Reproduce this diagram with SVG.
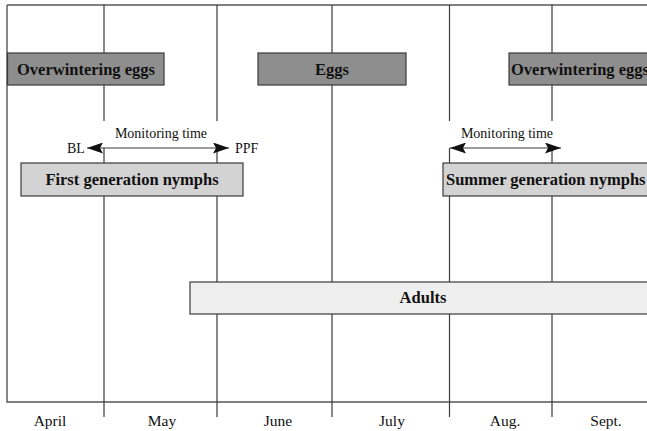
<svg xmlns="http://www.w3.org/2000/svg" width="647" height="431" viewBox="0 0 647 431">
<style>
.ln{stroke:#3a3a3a;stroke-width:1.2;fill:none}
.frame{stroke:#555;stroke-width:1.4;fill:none}
.box{stroke:#3a3a3a;stroke-width:1.2}
.dark{fill:#8e8e8e}
.mid{fill:#d3d3d3}
.light{fill:#efefef}
.bl{font-family:"Liberation Serif","Times New Roman",serif;font-weight:bold;font-size:16.5px;fill:#111;text-anchor:middle}
.st{text-anchor:start}
.tx{font-family:"Liberation Serif","Times New Roman",serif;font-size:14px;fill:#111}
.mo{font-family:"Liberation Serif","Times New Roman",serif;font-size:15.5px;fill:#111;text-anchor:middle}
</style>
<defs>
<marker id="ah" viewBox="0 0 16 11" refX="16" refY="5.5" markerWidth="16" markerHeight="11" markerUnits="userSpaceOnUse" orient="auto-start-reverse">
<path d="M0,0 L16,5.5 L0,11 L3,5.5 Z" fill="#111"/>
</marker>
</defs>
<rect width="647" height="431" fill="#fff"/>
<g id="grid">
<path class="frame" d="M7,5 H647 M7,5 V402 H647"/>
<path class="ln" d="M104,5 V121 M104,148 V417 M217,5 V121 M217,148 V417 M332,5 V417 M449.5,5 V121 M449.5,148 V417 M552,5 V121 M552,148 V417"/>
</g>
<g id="connectors">
<line class="ln" x1="87" y1="148" x2="229" y2="148" marker-start="url(#ah)" marker-end="url(#ah)" stroke="#111"/>
<line class="ln" x1="450" y1="148" x2="561" y2="148" marker-start="url(#ah)" marker-end="url(#ah)" stroke="#111"/>
<text class="tx" x="161" y="138" text-anchor="middle">Monitoring time</text>
<text class="tx" x="507" y="138" text-anchor="middle">Monitoring time</text>
<text class="tx" x="67" y="153">BL</text>
<text class="tx" x="235" y="153">PPF</text>
</g>
<g id="overwintering-eggs-1">
<rect class="box dark" x="7.5" y="53" width="156.5" height="32"/>
<text class="bl" x="86" y="74.5">Overwintering eggs</text>
</g>
<g id="eggs">
<rect class="box dark" x="258" y="53" width="148" height="32"/>
<text class="bl" x="332" y="74.5">Eggs</text>
</g>
<g id="overwintering-eggs-2">
<rect class="box dark" x="509" y="53" width="150" height="32"/>
<text class="bl st" x="511" y="74.5">Overwintering eggs</text>
</g>
<g id="first-generation-nymphs">
<rect class="box mid" x="21" y="163" width="222" height="33"/>
<text class="bl" x="132" y="185">First generation nymphs</text>
</g>
<g id="summer-generation-nymphs">
<rect class="box mid" x="443" y="163" width="216" height="33"/>
<text class="bl st" x="446" y="185">Summer generation nymphs</text>
</g>
<g id="adults">
<rect class="box light" x="190" y="282" width="469" height="32"/>
<text class="bl" x="423" y="303">Adults</text>
</g>
<g id="months">
<text class="mo" x="50" y="426">April</text>
<text class="mo" x="162" y="426">May</text>
<text class="mo" x="278" y="426">June</text>
<text class="mo" x="392" y="426">July</text>
<text class="mo" x="505" y="426">Aug.</text>
<text class="mo" x="606" y="426">Sept.</text>
</g>
</svg>
